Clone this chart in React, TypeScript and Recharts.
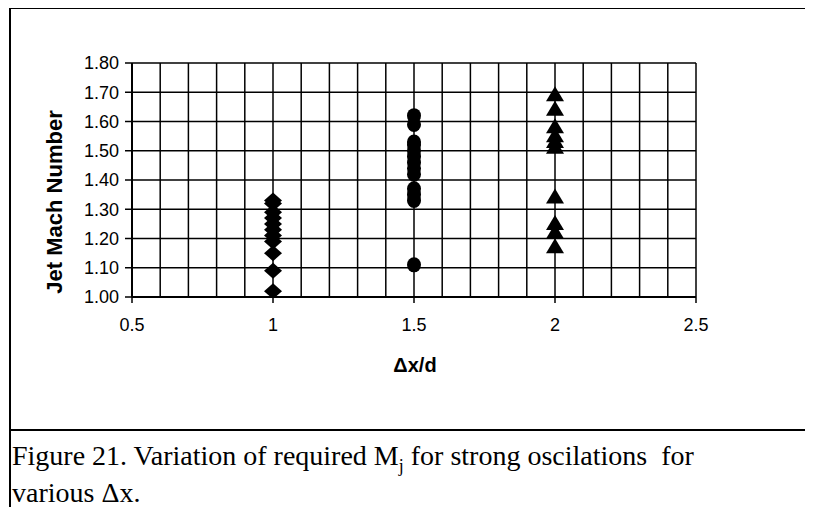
import { ScatterChart, Scatter, XAxis, YAxis, CartesianGrid, Label } from "recharts";

// x positions of the three groups
const diamondX = 1;
const circleX = 1.5;
const triangleX = 2;

// jet mach numbers
const diamondY = [1.02, 1.09, 1.15, 1.19, 1.21, 1.23, 1.25, 1.27, 1.29, 1.32, 1.33];
const circleY = [1.11, 1.33, 1.35, 1.37, 1.42, 1.44, 1.46, 1.48, 1.5, 1.52, 1.53, 1.59, 1.62];
const triangleY = [1.17, 1.22, 1.25, 1.34, 1.51, 1.53, 1.55, 1.58, 1.64, 1.69];

// every 0.1 gets a grid line, only the 0.5 steps get a label
const xTicks = [0.5, 0.6, 0.7, 0.8, 0.9, 1, 1.1, 1.2, 1.3, 1.4, 1.5, 1.6, 1.7, 1.8, 1.9, 2, 2.1, 2.2, 2.3, 2.4, 2.5];
const xLabels = [0.5, 1, 1.5, 2, 2.5];
const yTicks = [1.0, 1.1, 1.2, 1.3, 1.4, 1.5, 1.6, 1.7, 1.8];

const diamonds = diamondY.map((y) => ({ x: diamondX, y }));
const circles = circleY.map((y) => ({ x: circleX, y }));
const triangles = triangleY.map((y) => ({ x: triangleX, y }));

const sans = "Arial, 'Liberation Sans', sans-serif";
const serif = "'Times New Roman', 'Liberation Serif', serif";

const Diamond = (p: any) => (
  <polygon
    points={`${p.cx},${p.cy - 8} ${p.cx + 9},${p.cy} ${p.cx},${p.cy + 8} ${p.cx - 9},${p.cy}`}
    fill="#000"
  />
);
const Dot = (p: any) => <ellipse cx={p.cx} cy={p.cy} rx={7} ry={7.5} fill="#000" />;
const Triangle = (p: any) => (
  <polygon
    points={`${p.cx},${p.cy - 9} ${p.cx + 9},${p.cy + 6} ${p.cx - 9},${p.cy + 6}`}
    fill="#000"
  />
);

const XTick = (p: any) => {
  const v = p.payload.value;
  const major = xLabels.some((m) => Math.abs(m - v) < 1e-6);
  if (!major) return null;
  return (
    <g>
      <line x1={p.x} x2={p.x} y1={p.y} y2={p.y + 6} stroke="#000" strokeWidth={1.5} />
      <text x={p.x} y={p.y + 28} textAnchor="middle" dominantBaseline="central" fontSize={18} fontFamily={sans} fill="#000">
        {v}
      </text>
    </g>
  );
};

const captionStyle = {
  position: "absolute" as const,
  left: 4,
  fontFamily: serif,
  fontSize: 28,
  lineHeight: "24px",
  whiteSpace: "pre" as const,
  color: "#000",
};

export default function App() {
  return (
    <div style={{ position: "relative", width: 805, height: 499 }}>
      <div style={{ position: "absolute", left: 1, top: 0, width: 2, height: 499, background: "#000" }} />
      <div style={{ position: "absolute", left: 1, top: -1, width: 804, height: 2, background: "#000" }} />
      <div style={{ position: "absolute", left: 1, top: 421, width: 804, height: 2, background: "#000" }} />

      <div style={{ position: "absolute", left: 0, top: 0 }}>
        <ScatterChart width={805} height={420} margin={{ top: 55, right: 117, bottom: 91, left: 64 }}>
          <CartesianGrid stroke="#000" strokeWidth={1.5} />
          <XAxis
            type="number"
            dataKey="x"
            domain={[0.5, 2.5]}
            ticks={xTicks}
            interval={0}
            tick={<XTick />}
            tickSize={0}
            tickMargin={0}
            height={40}
            axisLine={{ stroke: "#000", strokeWidth: 2 }}
            allowDataOverflow
          >
            <Label
              content={() => (
                <text x={407} y={357} textAnchor="middle" dominantBaseline="central" fontSize={20} fontWeight="bold" fontFamily={sans} fill="#000">
                  Δx/d
                </text>
              )}
            />
          </XAxis>
          <YAxis
            type="number"
            dataKey="y"
            domain={[1, 1.8]}
            ticks={yTicks}
            interval={0}
            width={60}
            tickSize={7}
            tickMargin={6}
            tickFormatter={(v: number) => v.toFixed(2)}
            tick={{ fontSize: 18, fontFamily: sans, fill: "#000" }}
            tickLine={{ stroke: "#000", strokeWidth: 1.5 }}
            axisLine={{ stroke: "#000", strokeWidth: 2 }}
            allowDataOverflow
          >
            <Label
              content={() => (
                <text
                  x={46}
                  y={194}
                  transform="rotate(-90 46 194)"
                  textAnchor="middle"
                  dominantBaseline="central"
                  fontSize={22}
                  fontWeight="bold"
                  fontFamily={sans}
                  fill="#000"
                >
                  Jet Mach Number
                </text>
              )}
            />
          </YAxis>
          <Scatter data={diamonds} shape={<Diamond />} isAnimationActive={false} />
          <Scatter data={circles} shape={<Dot />} isAnimationActive={false} />
          <Scatter data={triangles} shape={<Triangle />} isAnimationActive={false} />
        </ScatterChart>
      </div>

      <div style={{ ...captionStyle, top: 436 }}>
        Figure 21. Variation of required M<span style={{ fontSize: 18, verticalAlign: "-7px" }}>j</span> for strong oscilations  for
      </div>
      <div style={{ ...captionStyle, top: 473 }}>various Δx.</div>
    </div>
  );
}
